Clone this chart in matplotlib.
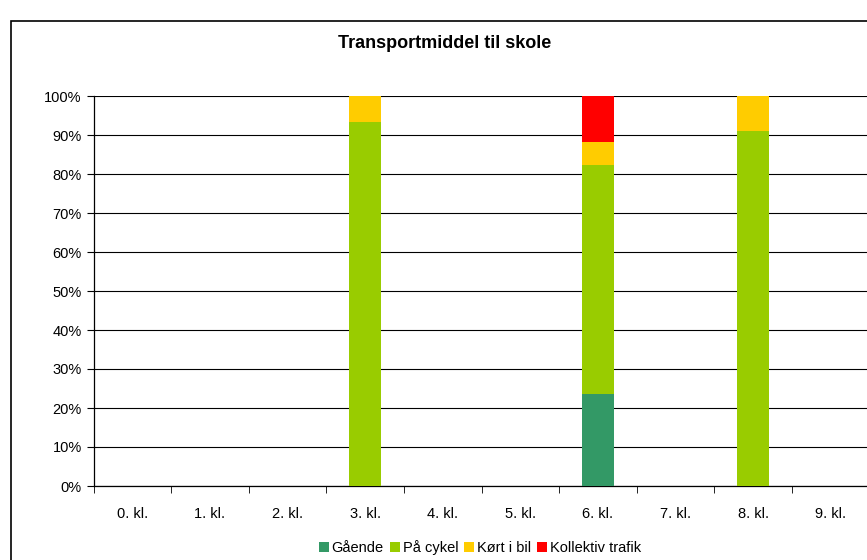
import matplotlib.pyplot as plt
import numpy as np
from matplotlib.patches import Rectangle
from matplotlib.ticker import PercentFormatter

plt.rcParams['font.family'] = ['Liberation Sans', 'DejaVu Sans']

klasser = ['0. kl.', '1. kl.', '2. kl.', '3. kl.', '4. kl.',
           '5. kl.', '6. kl.', '7. kl.', '8. kl.', '9. kl.']
gaaende = [0, 0, 0, 0, 0, 0, 23.5, 0, 0, 0]
cykel = [0, 0, 0, 93.3, 0, 0, 58.8, 0, 90.9, 0]
bil = [0, 0, 0, 6.7, 0, 0, 5.9, 0, 9.1, 0]
kollektiv = [0, 0, 0, 0, 0, 0, 11.8, 0, 0, 0]

serier = ['Gående', 'På cykel', 'Kørt i bil', 'Kollektiv trafik']
farver = ['#339966', '#99CC00', '#FFCC00', '#FF0000']

fig = plt.figure(figsize=(8.67, 5.6), dpi=100)
ax = fig.add_axes([93.5/867, 1-486/560, 1-91/867, (486-96)/560])

# ramme om diagrammet
fig.patches.append(Rectangle((11/867, -0.1), 1.2, 1.1 - 21/560,
                             transform=fig.transFigure, fill=False,
                             edgecolor='black', linewidth=1.2))

x = np.arange(len(klasser))
bund = np.zeros(len(klasser))
for navn, data, farve in zip(serier, [gaaende, cykel, bil, kollektiv], farver):
    ax.bar(x, data, width=0.42, bottom=bund, color=farve, label=navn, zorder=3)
    bund += np.array(data)

ax.set_xlim(-0.5, 9.5)
ax.set_ylim(0, 100)
ax.set_yticks(np.arange(0, 101, 10))
ax.yaxis.set_major_formatter(PercentFormatter(decimals=0))
ax.grid(axis='y', color='black', linewidth=0.8, zorder=0)
ax.set_axisbelow(True)

ax.set_xticks(x)
ax.set_xticklabels(klasser)
ax.set_xticks(np.arange(-0.5, 10, 1), minor=True)
ax.tick_params(axis='x', which='major', length=0, pad=15, labelsize=10.5)
ax.tick_params(axis='x', which='minor', length=5, direction='out')
ax.tick_params(axis='y', length=5, direction='out', labelsize=10.5)

for s in ['top', 'right']:
    ax.spines[s].set_visible(False)
for s in ['left', 'bottom']:
    ax.spines[s].set_linewidth(0.9)

fig.text(445/867, 1-44/560, 'Transportmiddel til skole', ha='center', va='center',
         fontsize=13, fontweight='bold')

fig.legend(loc='center', bbox_to_anchor=(480/867, 1-548/560), ncol=4,
           frameon=False, fontsize=10.5, handlelength=0.7, handleheight=0.7,
           handletextpad=0.2, columnspacing=0.4, borderaxespad=0)

fig.savefig('out.png', dpi=100)
